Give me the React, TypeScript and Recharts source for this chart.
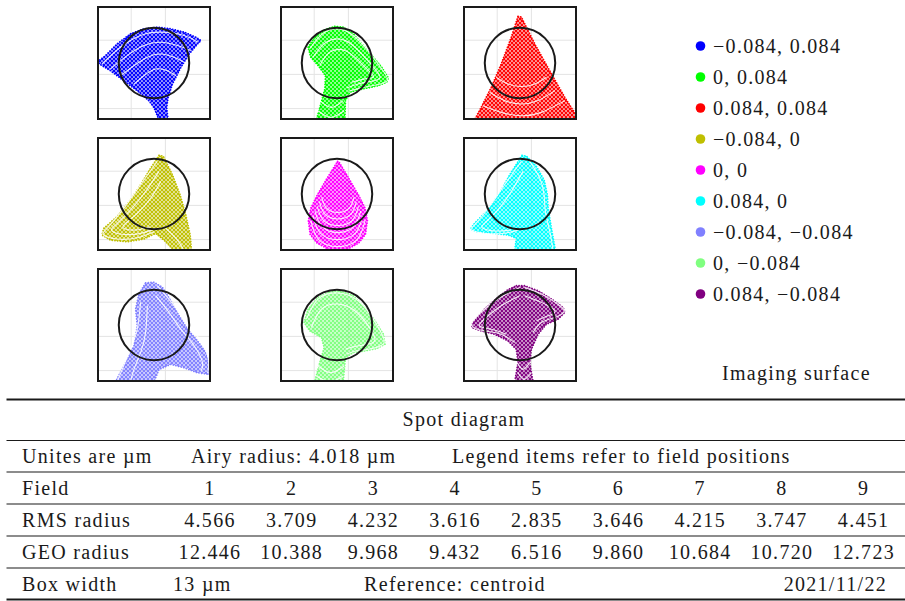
import React from "react";
import { ScatterChart, Scatter, XAxis, YAxis, CartesianGrid, ReferenceDot } from "recharts";

type Pt = [number, number];

// field positions (legend) and colours
const FIELD_LABELS = [
  "−0.084, 0.084",
  "0, 0.084",
  "0.084, 0.084",
  "−0.084, 0",
  "0, 0",
  "0.084, 0",
  "−0.084, −0.084",
  "0, −0.084",
  "0.084, −0.084",
];
const FIELD_COLORS = [
  "#0000ff",
  "#00ff00",
  "#ff0000",
  "#bfbf00",
  "#ff00ff",
  "#00ffff",
  "#8080ff",
  "#80ff80",
  "#800080",
];

// box is 13 µm wide, grid every 1.3 µm
const BOX_WIDTH_UM = 13;
const GRID_TICKS = [-6.5, -5.2, -3.9, -2.6, -1.3, 0, 1.3, 2.6, 3.9, 5.2, 6.5];
const AIRY_RADIUS = 4.018;

// outline of each spot (µm, relative to centroid)
const HULL_1: Pt[] = [
  [-6.42, 0.15], [-5.54, 0.84], [-4.21, 2.18], [-2.68, 3.33], [-1.15, 3.9], [0.38, 4.09],
  [1.91, 3.9], [3.44, 3.52], [4.78, 2.94], [5.35, 2.56], [4.97, 2.18], [4.02, 1.03],
  [3.06, -0.5], [2.1, -2.41], [1.61, -3.94], [1.45, -5.09], [1.61, -6.5], [0.57, -6.5],
  [0.0, -5.09], [-0.57, -4.32], [-1.91, -3.17], [-3.44, -2.03], [-4.97, -0.88], [-6.12, -0.19],
];
const HULL_2: Pt[] = [
  [-3.3, 1.81], [-2.54, 2.96], [-1.39, 3.8], [-0.25, 4.18], [0.71, 4.1], [1.85, 3.34],
  [3.0, 2.0], [4.14, 0.67], [5.1, -0.48], [5.86, -1.7], [5.67, -2.19], [4.71, -2.58],
  [3.57, -2.84], [2.42, -3.07], [1.47, -3.34], [0.97, -4.29], [0.9, -6.47], [-2.35, -6.47],
  [-1.85, -4.68], [-1.39, -2.96], [-1.32, -1.43], [-2.16, -0.29], [-3.0, 0.67],
];
const HULL_3: Pt[] = [
  [-0.23, 5.32], [0.15, 5.25], [1.68, 2.19], [3.59, -1.24], [5.11, -3.91], [6.45, -6.01],
  [6.45, -6.47], [-5.19, -6.47], [-4.43, -5.06], [-3.28, -2.77], [-2.14, -0.1], [-0.99, 2.96],
];
const HULL_4: Pt[] = [
  [0.57, 4.42], [1.07, 4.3], [2.1, 2.2], [2.98, -0.1], [3.63, -2.39], [4.13, -4.68],
  [4.28, -6.48], [2.29, -6.48], [1.34, -5.45], [0.19, -4.49], [-1.15, -5.14], [-3.06, -5.45],
  [-4.97, -5.26], [-5.93, -4.68], [-5.74, -3.92], [-4.21, -2.58], [-2.68, -0.67], [-1.53, 1.05],
  [-0.38, 2.96],
];
const HULL_5: Pt[] = [
  [0.06, 3.72], [0.2, 3.72], [1.4, 1.7], [2.5, -0.2], [3.2, -1.6], [3.47, -3.02], [3.25, -4.6],
  [2.48, -5.6], [1.2, -6.3], [-1.0, -6.3], [-2.28, -5.6], [-3.07, -4.6], [-3.27, -3.02],
  [-2.98, -1.6], [-2.3, -0.2], [-1.2, 1.7],
];
const HULL_6: Pt[] = [
  [0.23, 4.41], [0.73, 4.33], [1.87, 3.15], [2.75, 1.62], [3.13, -0.1], [3.21, -1.62],
  [3.59, -3.91], [4.05, -6.47], [-0.61, -6.47], [-0.42, -5.06], [-1.37, -4.68], [-3.28, -4.48],
  [-5.0, -4.29], [-5.65, -3.99], [-5.19, -3.34], [-3.66, -1.81], [-2.33, 0.1], [-1.18, 2.19],
];
const HULL_7: Pt[] = [
  [-0.96, 4.8], [0.0, 4.88], [0.96, 4.3], [1.91, 2.77], [2.87, 1.05], [3.82, -0.48],
  [4.97, -1.82], [5.93, -3.15], [6.31, -4.68], [6.31, -5.64], [4.97, -5.45], [3.44, -4.88],
  [1.91, -4.49], [0.57, -5.07], [0.0, -6.48], [-4.4, -6.48], [-3.44, -4.68], [-2.29, -2.39],
  [-1.91, -0.1], [-2.1, 1.82], [-1.72, 3.54],
];
const HULL_8: Pt[] = [
  [-0.82, 3.8], [0.32, 3.91], [1.85, 3.34], [3.19, 2.0], [4.33, 0.48], [5.29, -1.05],
  [5.48, -2.19], [4.52, -2.69], [3.19, -2.96], [1.85, -3.15], [0.97, -3.72], [0.71, -6.47],
  [-2.54, -6.47], [-1.97, -4.29], [-1.47, -2.58], [-1.77, -1.43], [-3.11, -0.67], [-3.76, 0.29],
  [-3.3, 1.81], [-2.16, 3.15],
];
const HULL_9: Pt[] = [
  [-0.42, 4.48], [0.53, 4.48], [2.06, 3.91], [3.59, 2.96], [4.92, 2.0], [5.11, 1.43],
  [4.35, 0.67], [3.02, 0.1], [2.06, -1.05], [1.3, -2.77], [1.11, -4.29], [1.49, -6.47],
  [-0.61, -6.47], [-0.23, -4.29], [-0.42, -2.77], [-1.37, -1.81], [-2.9, -1.05], [-4.43, -0.67],
  [-5.5, -0.29], [-5.38, 0.29], [-4.05, 1.81], [-2.52, 3.15], [-1.37, 4.03],
];

// visible ray rows / rings inside each spot (drawn as the white gaps between rows)
const RINGS_1: Pt[][] = [
  [[-5.93, -0.11], [-3.82, 1.8], [-1.53, 3.14], [0.76, 3.52], [3.44, 3.14], [4.97, 2.37]],
  [[-4.97, -0.69], [-3.06, 0.84], [-1.15, 1.99], [0.76, 2.37], [2.68, 1.99], [4.21, 1.41]],
  [[-3.82, -1.45], [-2.29, -0.31], [-0.76, 0.65], [0.76, 1.03], [2.29, 0.65], [3.44, 0.08]],
  [[-2.29, -2.41], [-1.15, -1.45], [0.19, -0.69], [1.53, -0.88], [2.49, -1.45]],
];
const RINGS_2: Pt[][] = [
  [[-3.11, 1.62], [-1.39, 3.53], [0.9, 3.72], [3.19, 1.81], [5.1, -0.67], [5.78, -1.93], [4.71, -2.46], [2.81, -2.84], [1.28, -3.23]],
  [[-2.73, 0.67], [-1.2, 2.39], [0.9, 2.58], [2.81, 1.05], [4.33, -0.67], [4.9, -1.7], [3.95, -2.08], [2.42, -2.39], [1.09, -2.84]],
  [[-1.97, -0.29], [-0.82, 1.24], [0.9, 1.43], [2.42, 0.29], [3.76, -1.05], [4.14, -1.62], [3.19, -1.81], [1.66, -2.19]],
  [[-1.97, -4.29], [-0.63, -5.06], [0.71, -4.29]],
  [[-2.16, -5.44], [-0.71, -6.2], [0.82, -5.44]],
];
const RINGS_3: Pt[][] = [
  [[-2.71, -1.62], [-1.37, -2.39], [0.15, -2.68], [1.68, -2.39], [3.02, -1.62]],
  [[-3.47, -3.34], [-1.76, -4.29], [0.15, -4.68], [2.06, -4.29], [3.97, -3.15]],
  [[-4.24, -4.87], [-2.14, -5.63], [0.15, -6.01], [2.44, -5.63], [5.11, -4.29]],
];
const RINGS_4: Pt[][] = [
  [[0.38, 3.73], [-1.53, 1.05], [-3.44, -1.63], [-5.35, -3.92], [-5.74, -4.68], [-4.21, -5.14], [-1.91, -4.99], [0.0, -4.3]],
  [[0.57, 2.58], [-0.96, 0.29], [-2.68, -1.82], [-4.4, -3.54], [-4.78, -4.23], [-3.44, -4.61], [-1.53, -4.49], [0.19, -3.92]],
  [[0.76, 1.43], [-0.38, -0.48], [-1.91, -2.2], [-3.25, -3.35], [-3.44, -3.92], [-2.1, -4.11], [-0.38, -3.73]],
  [[1.34, -3.92], [2.68, -5.26], [3.44, -6.48]],
];
const RINGS_5: Pt[][] = [
  [[-3.0, -3.02], [-2.09, -5.2], [0.1, -6.0], [2.29, -5.2], [3.2, -3.02]],
  [[-2.74, -2.5], [-1.9, -4.45], [0.1, -5.2], [2.1, -4.45], [2.94, -2.5]],
  [[-2.5, -1.96], [-1.72, -3.7], [0.1, -4.4], [1.92, -3.7], [2.7, -1.96]],
  [[-2.25, -1.42], [-1.55, -3.0], [0.1, -3.6], [1.75, -3.0], [2.45, -1.42]],
  [[-2.0, -0.9], [-1.38, -2.3], [0.1, -2.85], [1.58, -2.3], [2.2, -0.9]],
  [[-1.75, -0.36], [-1.2, -1.6], [0.1, -2.1], [1.4, -1.6], [1.95, -0.36]],
];
const RINGS_6: Pt[][] = [
  [[0.15, 3.72], [-1.76, 1.05], [-3.47, -1.43], [-5.19, -3.53], [-5.5, -4.1], [-4.05, -4.48], [-1.76, -4.48], [-0.23, -4.1]],
  [[0.34, 2.58], [-0.99, 0.29], [-2.52, -1.81], [-4.05, -3.34], [-4.24, -3.91], [-2.9, -4.22], [-0.99, -4.1]],
  [[1.11, 3.72], [2.25, 1.81], [2.75, -0.1], [2.9, -2.0], [3.4, -4.29], [3.78, -6.47]],
];
const RINGS_7: Pt[][] = [
  [[0.38, 4.49], [2.29, 2.2], [3.82, 0.1], [5.35, -1.82], [6.2, -3.92], [6.12, -5.45]],
  [[0.19, 3.35], [1.72, 1.43], [3.06, -0.48], [4.59, -2.39], [5.54, -4.3], [5.35, -5.26]],
  [[-1.53, 2.58], [-1.91, -0.48], [-2.68, -2.77], [-3.63, -5.07], [-4.21, -6.48]],
  [[-0.76, 2.2], [-0.96, -0.86], [-1.53, -3.15], [-2.29, -5.07], [-2.68, -6.48]],
];
const RINGS_8: Pt[][] = [
  [[-3.49, 0.67], [-2.16, 2.96], [0.13, 3.65], [2.42, 2.77], [4.14, 0.67], [5.29, -1.43], [5.1, -2.31], [3.57, -2.77], [2.04, -3.0], [1.09, -3.34]],
  [[-2.92, -0.29], [-1.77, 1.81], [0.13, 2.39], [2.04, 1.62], [3.57, -0.1], [4.33, -1.62], [3.57, -2.19], [2.04, -2.46], [0.97, -2.77]],
  [[-2.16, -4.68], [-0.71, -5.44], [0.82, -4.68]],
  [[-2.35, -5.82], [-0.82, -6.47], [0.71, -5.82]],
];
const RINGS_9: Pt[][] = [
  [[-0.04, 4.29], [-2.52, 2.96], [-4.43, 1.43], [-5.5, -0.02], [-4.05, -0.67], [-2.14, -1.05], [-0.61, -2.0]],
  [[-0.04, 3.34], [-2.14, 2.19], [-3.85, 0.86], [-4.62, -0.1], [-3.28, -0.48], [-1.56, -1.05]],
  [[0.53, 4.29], [2.82, 3.34], [4.54, 2.19], [5.04, 1.5], [3.97, 0.86], [2.44, 0.29], [1.49, -0.86]],
  [[0.53, 3.34], [2.44, 2.58], [3.97, 1.62], [3.21, 1.05], [1.87, 0.48]],
  [[-0.31, -4.29], [0.34, -5.06], [1.11, -4.29]],
  [[-0.23, -5.44], [0.46, -6.2], [1.3, -5.44]],
];

const HULLS = [HULL_1, HULL_2, HULL_3, HULL_4, HULL_5, HULL_6, HULL_7, HULL_8, HULL_9];
const RINGS = [RINGS_1, RINGS_2, RINGS_3, RINGS_4, RINGS_5, RINGS_6, RINGS_7, RINGS_8, RINGS_9];

// table
const TITLE = "Spot diagram";
const UNITS_ROW = ["Unites are µm", "Airy radius: 4.018 µm", "Legend items refer to field positions"];
const FIELD_NUMBERS = ["1", "2", "3", "4", "5", "6", "7", "8", "9"];
const RMS_RADIUS = ["4.566", "3.709", "4.232", "3.616", "2.835", "3.646", "4.215", "3.747", "4.451"];
const GEO_RADIUS = ["12.446", "10.388", "9.968", "9.432", "6.516", "9.860", "10.684", "10.720", "12.723"];
const FOOT_ROW = ["Box width", "13 µm", "Reference: centroid", "2021/11/22"];
const SURFACE = "Imaging surface";

const FONT = "'Liberation Serif', serif";
const INK = "#1a1a1a";
const BOX = 114;
const PANEL_LEFT = [97, 280, 463];
const PANEL_TOP = [6, 137, 268];

const none = () => <g />;

function SpotPanel({ idx }: { idx: number }) {
  const color = FIELD_COLORS[idx];
  const pxPerUm = BOX / BOX_WIDTH_UM;
  const hull = HULLS[idx].map(([x, y]) => ({ x, y }));
  const left = PANEL_LEFT[idx % 3];
  const top = PANEL_TOP[Math.floor(idx / 3)];
  return (
    <div style={{ position: "absolute", left, top, width: BOX, height: BOX }}>
      <ScatterChart width={BOX} height={BOX} margin={{ top: 0, right: 0, bottom: 0, left: 0 }}>
        <defs>
          <pattern id={`dots-${idx}`} width={4} height={4} patternUnits="userSpaceOnUse">
            <rect width={4} height={4} fill={color} fillOpacity={0.4} />
            <circle cx={1} cy={1} r={1.2} fill={color} />
            <circle cx={3} cy={3} r={1.2} fill={color} />
          </pattern>
        </defs>
        <CartesianGrid stroke="#e4e4e4" strokeWidth={1} />
        <XAxis type="number" dataKey="x" domain={[-6.5, 6.5]} ticks={GRID_TICKS} hide allowDataOverflow />
        <YAxis type="number" dataKey="y" domain={[-6.5, 6.5]} ticks={GRID_TICKS} hide allowDataOverflow />
        <Scatter
          data={hull}
          fill={color}
          shape={none}
          line={{ fill: `url(#dots-${idx})`, stroke: color, strokeWidth: 1.7, strokeDasharray: "0.1 2.6", strokeLinecap: "round" }}
          lineType="joint"
          lineJointType="linearClosed"
          isAnimationActive={false}
        />
        {RINGS[idx].map((ring, k) => (
          <Scatter
            key={k}
            data={ring.map(([x, y]) => ({ x, y }))}
            fill="#ffffff"
            shape={none}
            line={{ fill: "none", stroke: "#ffffff", strokeWidth: 1.1, strokeOpacity: 0.85 }}
            lineType="joint"
            lineJointType="natural"
            isAnimationActive={false}
          />
        ))}
        <ReferenceDot x={0} y={0} r={AIRY_RADIUS * pxPerUm} fill="none" stroke={INK} strokeWidth={2} />
      </ScatterChart>
      <div
        style={{
          position: "absolute",
          inset: 0,
          border: `2px solid ${INK}`,
          boxSizing: "border-box",
        }}
      />
    </div>
  );
}

export default function App() {
  const colX = (i: number) => 210 + i * 81.7;
  const rowY = [419, 456, 488, 520, 552, 584].map((c) => c + 6.5);
  const rules = [440.5, 472, 504, 536, 568];
  return (
    <div style={{ position: "absolute", left: 0, top: 0, width: 905, height: 601, background: "#fff" }}>
      {FIELD_COLORS.map((_, i) => (
        <SpotPanel key={i} idx={i} />
      ))}
      <svg width={905} height={601} style={{ position: "absolute", left: 0, top: 0, pointerEvents: "none" }}>
        <g fontFamily={FONT} fontSize={20} fill={INK} letterSpacing={1.3}>
          {FIELD_LABELS.map((label, i) => (
            <g key={label}>
              <circle cx={700.5} cy={46 + i * 31} r={4.8} fill={FIELD_COLORS[i]} />
              <text x={713} y={46 + i * 31 + 6.5}>{label}</text>
            </g>
          ))}
          <text x={722} y={380}>{SURFACE}</text>

          <line x1={6.5} x2={905} y1={399.5} y2={399.5} stroke={INK} strokeWidth={1.8} />
          {rules.map((y) => (
            <line key={y} x1={6.5} x2={905} y1={y} y2={y} stroke={INK} strokeWidth={1.2} />
          ))}
          <line x1={6.5} x2={905} y1={599.5} y2={599.5} stroke={INK} strokeWidth={1.8} />

          <text x={464} y={rowY[0]} textAnchor="middle">{TITLE}</text>

          <text x={22} y={rowY[1]}>{UNITS_ROW[0]}</text>
          <text x={191} y={rowY[1]}>{UNITS_ROW[1]}</text>
          <text x={452} y={rowY[1]}>{UNITS_ROW[2]}</text>

          <text x={22} y={rowY[2]}>Field</text>
          {FIELD_NUMBERS.map((v, i) => (
            <text key={v} x={colX(i)} y={rowY[2]} textAnchor="middle">{v}</text>
          ))}

          <text x={22} y={rowY[3]}>RMS radius</text>
          {RMS_RADIUS.map((v, i) => (
            <text key={i} x={colX(i)} y={rowY[3]} textAnchor="middle">{v}</text>
          ))}

          <text x={22} y={rowY[4]}>GEO radius</text>
          {GEO_RADIUS.map((v, i) => (
            <text key={i} x={colX(i)} y={rowY[4]} textAnchor="middle">{v}</text>
          ))}

          <text x={22} y={rowY[5]}>{FOOT_ROW[0]}</text>
          <text x={173} y={rowY[5]}>{FOOT_ROW[1]}</text>
          <text x={455} y={rowY[5]} textAnchor="middle">{FOOT_ROW[2]}</text>
          <text x={887} y={rowY[5]} textAnchor="end">{FOOT_ROW[3]}</text>
        </g>
      </svg>
    </div>
  );
}
